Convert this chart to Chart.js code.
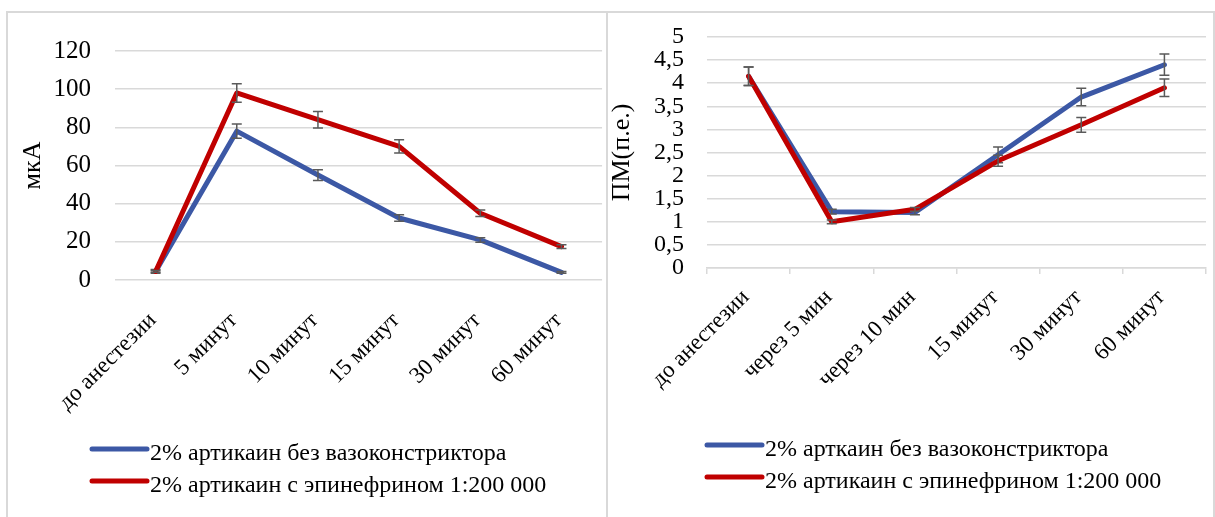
<!DOCTYPE html>
<html>
<head>
<meta charset="utf-8">
<script src="https://cdn.jsdelivr.net/npm/chart.js@4"></script>
<style>
body { margin: 0; background: #fff; }
.frame { position: absolute; border: 2px solid #d9d9d9; border-bottom: none; }
#frameL { left: 6px; top: 11px; width: 600px; height: 520px; border-right: none; }
#frameR { left: 606px; top: 11px; width: 605px; height: 520px; }
canvas { position: absolute; }
#chartL { left: 8px; top: 13px; }
#chartR { left: 609px; top: 13px; }
</style>
</head>
<body>
<div class="frame" id="frameL"></div>
<div class="frame" id="frameR"></div>
<canvas id="chartL" width="600" height="504"></canvas>
<canvas id="chartR" width="603" height="504"></canvas>
<script>
// левый график: ток (мкА)
let leftCats = ['до анестезии', '5 минут', '10 минут', '15 минут', '30 минут', '60 минут'];
let leftBlue = [4.5, 78, 55, 32.5, 21, 4];
let leftBlueErr = [1, 3.7, 2.8, 1.7, 1.2, 0.5];
let leftRed = [4.5, 98, 84, 70, 35, 17.5];
let leftRedErr = [0.5, 4.8, 4.3, 3.5, 1.7, 1];
let leftYTicks = ['0', '20', '40', '60', '80', '100', '120'];
let leftLabels = ['2% артикаин без вазоконстриктора', '2% артикаин с эпинефрином 1:200 000'];

// правый график: ПМ
let rightCats = ['до анестезии', 'через 5 мин', 'через 10 мин', '15 минут', '30 минут', '60 минут'];
let rightBlue = [4.15, 1.22, 1.2, 2.45, 3.7, 4.4];
let rightBlueErr = [0.2, 0.05, 0.05, 0.17, 0.19, 0.23];
let rightRed = [4.15, 1.0, 1.27, 2.32, 3.1, 3.9];
let rightRedErr = [0.2, 0.04, 0.04, 0.12, 0.16, 0.19];
let rightYTicks = ['0', '0,5', '1', '1,5', '2', '2,5', '3', '3,5', '4', '4,5', '5'];
let rightLabels = ['2% арткаин без вазоконстриктора', '2% артикаин с эпинефрином 1:200 000'];

const SERIF = '"Liberation Serif", "Times New Roman", serif';
const BLUE = '#3C58A5';
const RED = '#C00000';

const errorBars = {
    id: 'errorBars',
    afterDatasetDraw(chart, args) {
        let ds = chart.data.datasets[args.index];
        if (!ds.errors) return;
        let y = chart.scales.y;
        let ctx = chart.ctx;
        ctx.save();
        ctx.strokeStyle = '#5a5a5a';
        ctx.lineWidth = 1.5;
        args.meta.data.forEach(function (pt, i) {
            let e = ds.errors[i];
            if (!e) return;
            let top = y.getPixelForValue(ds.data[i] + e);
            let bot = y.getPixelForValue(ds.data[i] - e);
            ctx.beginPath();
            ctx.moveTo(pt.x, top); ctx.lineTo(pt.x, bot);
            ctx.moveTo(pt.x - 5, top); ctx.lineTo(pt.x + 5, top);
            ctx.moveTo(pt.x - 5, bot); ctx.lineTo(pt.x + 5, bot);
            ctx.stroke();
        });
        ctx.restore();
    }
};

const lineLegend = {
    id: 'lineLegend',
    afterDraw(chart, args, opts) {
        let ctx = chart.ctx;
        ctx.save();
        ctx.font = '24px ' + SERIF;
        ctx.textBaseline = 'alphabetic';
        chart.data.datasets.forEach(function (ds, i) {
            let y = opts.y[i];
            ctx.strokeStyle = ds.borderColor;
            ctx.lineWidth = 5;
            ctx.lineCap = 'round';
            ctx.beginPath();
            ctx.moveTo(opts.x, y);
            ctx.lineTo(opts.x + opts.len, y);
            ctx.stroke();
            ctx.fillStyle = '#000';
            ctx.fillText(ds.label, opts.x + opts.len + opts.gap, y + 11);
        });
        ctx.restore();
    }
};

function makeChart(id, cfg) {
    return new Chart(document.getElementById(id), {
        type: 'line',
        data: {
            labels: cfg.cats,
            datasets: [
                { label: cfg.labels[0], data: cfg.blue, errors: cfg.blueErr, borderColor: BLUE, order: 1 },
                { label: cfg.labels[1], data: cfg.red, errors: cfg.redErr, borderColor: RED, order: 0 }
            ]
        },
        options: {
            responsive: false,
            animation: false,
            layout: { padding: { top: cfg.padTop, right: cfg.padRight, bottom: 100, left: 0 } },
            elements: {
                line: { borderWidth: 5, tension: 0, borderJoinStyle: 'round', borderCapStyle: 'round', fill: false },
                point: { radius: 0, hoverRadius: 0 }
            },
            plugins: {
                legend: { display: false },
                tooltip: { enabled: false },
                lineLegend: cfg.legend
            },
            scales: {
                x: {
                    offset: true,
                    afterFit: function (scale) { scale.height = cfg.xHeight; },
                    grid: cfg.xGrid,
                    border: cfg.xBorder,
                    ticks: {
                        autoSkip: false, minRotation: 45, maxRotation: 45,
                        padding: cfg.xPad, labelOffset: -3,
                        color: '#000', font: { family: SERIF, size: 23 }
                    }
                },
                y: {
                    min: 0, max: cfg.yMax,
                    afterFit: function (scale) {
                        scale.width = cfg.yWidth;
                        scale.paddingTop = 0;
                        scale.paddingBottom = 0;
                    },
                    grid: { color: '#d9d9d9', lineWidth: 1.5, drawTicks: false },
                    border: { display: false },
                    ticks: {
                        stepSize: cfg.yStep, autoSkip: false, padding: cfg.yPad,
                        color: '#000', font: { family: SERIF, size: cfg.yFont },
                        callback: function (v, i) { return cfg.yTicks[i]; }
                    },
                    title: {
                        display: true, text: cfg.yTitle, color: '#000',
                        font: { family: SERIF, size: 26, lineHeight: 1 },
                        padding: { top: cfg.titlePad, bottom: 0 }
                    }
                }
            }
        },
        plugins: [errorBars, lineLegend]
    });
}

makeChart('chartL', {
    cats: leftCats, blue: leftBlue, red: leftRed, blueErr: leftBlueErr, redErr: leftRedErr,
    labels: leftLabels, yTicks: leftYTicks, yMax: 120, yStep: 20, yFont: 25, yTitle: 'мкА',
    padTop: 38, padRight: 0, yWidth: 107, xHeight: 137, yPad: 24, xPad: 27, titlePad: 12,
    xGrid: { display: false, drawTicks: false },
    xBorder: { display: false },
    legend: { x: 84, y: [436, 468], len: 55, gap: 3 }
});

makeChart('chartR', {
    cats: rightCats, blue: rightBlue, red: rightRed, blueErr: rightBlueErr, redErr: rightRedErr,
    labels: rightLabels, yTicks: rightYTicks, yMax: 5, yStep: 0.5, yFont: 24, yTitle: 'ПМ(п.е.)',
    padTop: 24, padRight: 6, yWidth: 98, xHeight: 149, yPad: 23, xPad: 10, titlePad: 0,
    xGrid: { display: true, drawOnChartArea: false, drawTicks: true, tickLength: 6, offset: true, color: '#d9d9d9', lineWidth: 1.5 },
    xBorder: { display: true, color: '#d9d9d9', width: 1.5 },
    legend: { x: 98, y: [432, 464], len: 55, gap: 3 }
});
</script>
</body>
</html>
